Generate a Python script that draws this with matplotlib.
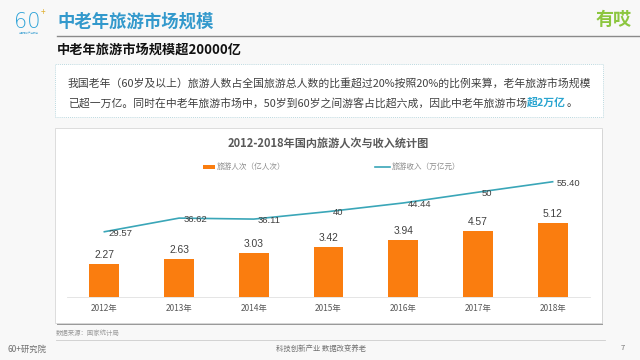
import matplotlib
matplotlib.use('Agg')
import matplotlib.pyplot as plt
from matplotlib.patches import Rectangle
from matplotlib.lines import Line2D

plt.rcParams['font.family'] = ['Noto Sans CJK SC', 'DejaVu Sans']

# データ
years = ['2012年', '2013年', '2014年', '2015年', '2016年', '2017年', '2018年']
visitors = [2.27, 2.63, 3.03, 3.42, 3.94, 4.57, 5.12]          # 亿人次
revenue = [29.57, 36.62, 36.11, 40, 44.44, 50, 55.40]           # 万亿元
revenue_labels = ['29.57', '36.62', '36.11', '40', '44.44', '50', '55.40']

W, H = 640, 360
BLUE = '#3399cc'
ORANGE = '#fa7d0f'
TEAL = '#3aa6b8'


def fx(x):
    return x / W


def fy(y):
    return 1 - y / H


fig = plt.figure(figsize=(6.4, 3.6), dpi=100)
fig.patch.set_facecolor('#f8f8f8')

# ヘッダー
fig.text(fx(14), fy(22), '60', fontsize=15, color='#2ea3d8', ha='left', va='center',
         family=['DejaVu Sans'], fontweight='light')
fig.text(fx(43), fy(13), '+', fontsize=6, color='#e0b030', ha='center', va='center')
fig.text(fx(29), fy(33), '中国老龄产业研究', fontsize=1.8, color='#5aaed8', ha='center', va='center')
fig.text(fx(57), fy(22), '中老年旅游市场规模', fontsize=12.5, color=BLUE,
         fontweight='bold', ha='left', va='center')
fig.text(fx(614), fy(19), '有哎', fontsize=13, color='#8cc63f',
         fontweight='bold', ha='center', va='center')
fig.add_artist(Line2D([fx(57), fx(640)], [fy(36), fy(36)], color='#8a8a8a', lw=1.0))
fig.text(fx(57), fy(50), '中老年旅游市场规模超20000亿', fontsize=9.5, color='#111111',
         fontweight='bold', ha='left', va='center')

# 説明ボックス
fig.add_artist(Rectangle((fx(55), fy(117)), fx(603) - fx(55), fy(64) - fy(117),
                         transform=fig.transFigure, facecolor='white',
                         edgecolor='#a8cfd8', lw=0.6, linestyle=(0, (1, 1.5)), zorder=-5))
fig.text(fx(68), fy(83),
         '我国老年（60岁及以上）旅游人数占全国旅游总人数的比重超过20%按照20%的比例来算，老年旅游市场规模',
         fontsize=7.8, color='#404040', ha='left', va='center')
renderer = fig.canvas.get_renderer()
t1 = fig.text(fx(68), fy(103),
              '已超一万亿。同时在中老年旅游市场中，50岁到60岁之间游客占比超六成，因此中老年旅游市场',
              fontsize=7.8, color='#404040', ha='left', va='center')
bb = t1.get_window_extent(renderer)
t2 = fig.text(bb.x1 / W, fy(103), '超2万亿', fontsize=7.8, color='#2aa5d0',
              fontweight='bold', ha='left', va='center')
bb = t2.get_window_extent(renderer)
fig.text(bb.x1 / W, fy(103), '。', fontsize=7.8, color='#404040', ha='left', va='center')

# グラフの枠
fig.add_artist(Rectangle((fx(57), fy(325)), fx(603) - fx(57), fy(130) - fy(325),
                         transform=fig.transFigure, facecolor='#9a9a9a',
                         edgecolor='none', zorder=-6))
fig.add_artist(Rectangle((fx(55), fy(323)), fx(602) - fx(55), fy(128) - fy(323),
                         transform=fig.transFigure, facecolor='white',
                         edgecolor='#d8d8d8', lw=0.6, zorder=-5))

fig.text(fx(328), fy(144), '2012-2018年国内旅游人次与收入统计图', fontsize=8,
         color='#595959', fontweight='bold', ha='center', va='center')

# 凡例
fig.add_artist(Rectangle((fx(203), fy(169)), fx(215) - fx(203), fy(165) - fy(169),
                         transform=fig.transFigure, facecolor=ORANGE, edgecolor='none'))
fig.text(fx(217), fy(167), '旅游人次（亿人次）', fontsize=5.5, color='#8c8c8c',
         ha='left', va='center')
fig.add_artist(Line2D([fx(375), fx(390)], [fy(167), fy(167)], color=TEAL, lw=1.2))
fig.text(fx(392), fy(167), '旅游收入（万亿元）', fontsize=5.5, color='#8c8c8c',
         ha='left', va='center')

# 棒グラフと折れ線
ax = fig.add_axes([fx(67), fy(297), fx(590) - fx(67), fy(170) - fy(297)])
ax.set_facecolor('none')
x = list(range(len(years)))
ax.bar(x, visitors, width=0.4, color=ORANGE, zorder=2)
for i, v in zip(x, visitors):
    ax.annotate(f'{v:.2f}', (i, v), xytext=(0, 3), textcoords='offset points',
                ha='center', va='bottom', fontsize=7.4, color='#404040',
                family=['Liberation Sans', 'DejaVu Sans'])
ax.set_xlim(-0.5, 6.5)
ax.set_ylim(0, 127 / 14.5)
ax.set_xticks(x)
ax.set_xticklabels(years, fontsize=6, color='#595959')
ax.tick_params(axis='x', length=0, pad=5)
ax.set_yticks([])
for s in ['top', 'left', 'right']:
    ax.spines[s].set_visible(False)
ax.spines['bottom'].set_color('#e0e0e0')
ax.spines['bottom'].set_linewidth(0.6)

ax2 = ax.twinx()
lo = -(297 - 289) / 1.936
ax2.set_ylim(lo, lo + 127 / 1.936)
ax2.plot(x, revenue, color=TEAL, lw=1.2, zorder=2, clip_on=False)
for i, v, lab in zip(x, revenue, revenue_labels):
    ax2.annotate(lab, (i, v), xytext=(3, -1), textcoords='offset points',
                 ha='left', va='center', fontsize=6.8, color='#404040',
                 family=['Liberation Sans', 'DejaVu Sans'])
ax2.set_yticks([])
for s in ['top', 'left', 'right', 'bottom']:
    ax2.spines[s].set_visible(False)

# フッター
fig.text(fx(56), fy(333), '数据来源：国家统计局', fontsize=4.6, color='#9a9a9a',
         ha='left', va='center')
fig.add_artist(Line2D([fx(56), fx(605)], [fy(340), fy(340)], color='#cccccc', lw=0.6))
fig.text(fx(7), fy(349), '60+研究院', fontsize=6, color='#707070', ha='left', va='center')
fig.text(fx(321), fy(349), '科技创新产业 数据改变养老', fontsize=5.3, color='#707070',
         ha='center', va='center')
fig.text(fx(623), fy(348), '7', fontsize=5.5, color='#707070', ha='center', va='center')

fig.savefig('out.png', dpi=100, facecolor=fig.get_facecolor())
